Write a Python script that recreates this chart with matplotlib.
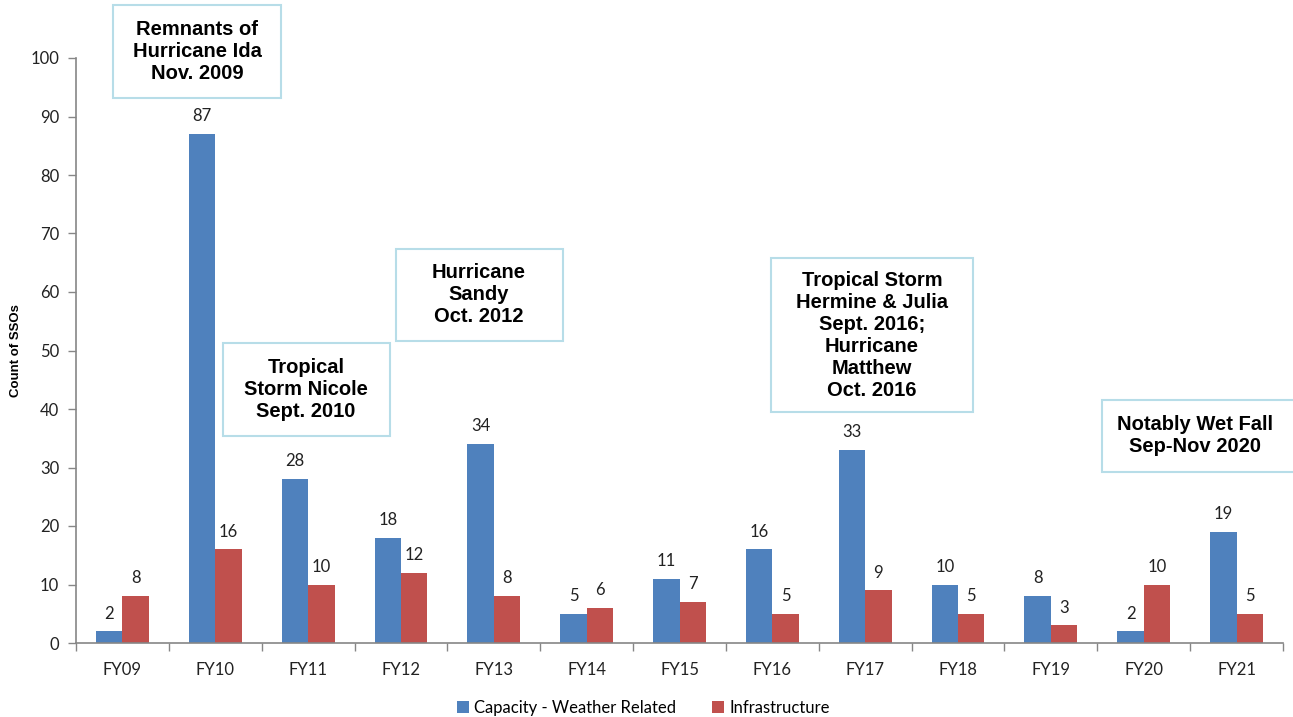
import numpy as np
import matplotlib.pyplot as plt
from matplotlib.patches import Rectangle

years = ["FY09", "FY10", "FY11", "FY12", "FY13", "FY14", "FY15",
         "FY16", "FY17", "FY18", "FY19", "FY20", "FY21"]
capacity = [2, 87, 28, 18, 34, 5, 11, 16, 33, 10, 8, 2, 19]
infrastructure = [8, 16, 10, 12, 8, 6, 7, 5, 9, 5, 3, 10, 5]

events = [
    "Remnants of\nHurricane Ida\nNov. 2009",
    "Tropical\nStorm Nicole\nSept. 2010",
    "Hurricane\nSandy\nOct. 2012",
    "Tropical Storm\nHermine & Julia\nSept. 2016;\nHurricane\nMatthew\nOct. 2016",
    "Notably Wet Fall\nSep-Nov 2020",
]
# box corners in pixels (x0, y0 top, x1, y1 bottom), text centre x
event_boxes = [
    (113, 5, 281, 98, 197),
    (223, 343, 390, 436, 306),
    (396, 249, 563, 341, 479),
    (771, 258, 973, 412, 872),
    (1102, 400, 1310, 472, 1195),
]

W, H = 1293, 717
BLUE = "#4F81BD"
RED = "#C0504D"
AXC = "#868686"
FONT = ["Lato", "DejaVu Sans"]

fig = plt.figure(figsize=(W / 100, H / 100), dpi=100)
ax = fig.add_axes([76 / W, (H - 643) / H, (1283 - 76) / W, (643 - 58) / H])

x = np.arange(len(years))
bw = 0.285
b1 = ax.bar(x - bw / 2, capacity, bw, color=BLUE, label="Capacity - Weather Related")
b2 = ax.bar(x + bw / 2, infrastructure, bw, color=RED, label="Infrastructure")

for bars, vals in [(b1, capacity), (b2, infrastructure)]:
    for r, v in zip(bars, vals):
        ax.annotate(str(v), (r.get_x() + r.get_width() / 2, v),
                    xytext=(0, 7), textcoords="offset points",
                    ha="center", va="bottom", fontsize=12, family=FONT,
                    color="#222222")

ax.set_xlim(-0.5, len(years) - 0.5)
ax.set_ylim(0, 100)
ax.set_yticks(range(0, 101, 10))
ax.set_xticks(x)
ax.set_xticklabels(years)
ax.set_xticks(np.arange(-0.5, len(years), 1), minor=True)
ax.tick_params(axis="x", which="major", length=0, pad=14)
ax.tick_params(axis="x", which="minor", length=6, color=AXC, width=1)
ax.tick_params(axis="y", length=6, color=AXC, width=1, pad=6)
for t in ax.get_xticklabels() + ax.get_yticklabels():
    t.set_fontsize(12)
    t.set_family(FONT)
    t.set_color("#222222")

for s in ["top", "right"]:
    ax.spines[s].set_visible(False)
for s in ["left", "bottom"]:
    ax.spines[s].set_color(AXC)
    ax.spines[s].set_linewidth(1.2)

ax.set_ylabel("Count of SSOs", fontsize=9.5, fontweight="bold",
              family=["Liberation Sans", "DejaVu Sans"], labelpad=6)

leg = ax.legend(loc="lower center", bbox_to_anchor=(0.47, -0.15), ncol=2,
                frameon=False, handlelength=0.7, handleheight=0.7,
                handletextpad=0.3, columnspacing=2.2,
                prop={"family": FONT, "size": 12})

for txt, (x0, y0, x1, y1, cx) in zip(events, event_boxes):
    fig.patches.append(Rectangle((x0 / W, 1 - y1 / H), (x1 - x0) / W, (y1 - y0) / H,
                                 transform=fig.transFigure, facecolor="white",
                                 edgecolor="#B7DDE8", linewidth=1.5))
    fig.text(cx / W, 1 - (y0 + y1) / 2 / H, txt, ha="center", va="center",
             fontsize=14.5, fontweight="bold", linespacing=1.2,
             family=["Liberation Sans", "DejaVu Sans"])

fig.savefig("out.png", dpi=100)
